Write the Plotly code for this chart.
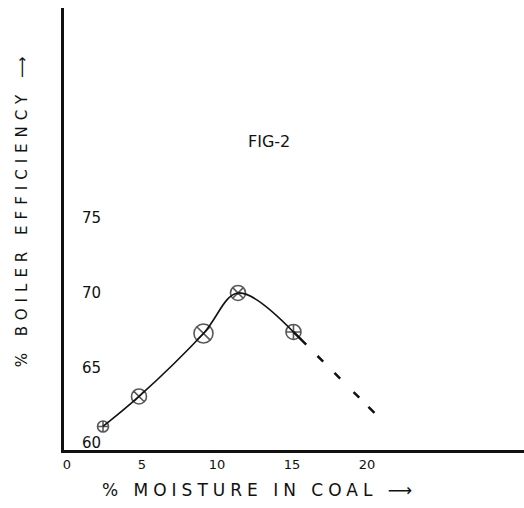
import plotly.graph_objects as go

# Boiler efficiency versus moisture content of the coal
moisture = [2.4, 4.8, 9.1, 11.4, 15.1]
efficiency = [61.1, 63.1, 67.3, 70.0, 67.4]
marker_sizes = [11, 15, 19, 15, 15]
marker_symbols = ["circle-cross-open", "circle-x-open", "circle-x-open",
                  "circle-x-open", "circle-cross-open"]

# Extrapolated trend beyond the last measurement
trend_moisture = [15.1, 20.5]
trend_efficiency = [67.4, 62.0]

x_ticks = [0, 5, 10, 15, 20]
y_ticks = [60, 65, 70, 75]

ink = "#111111"
font_family = "DejaVu Sans"

fig = go.Figure()

fig.add_trace(go.Scatter(
    x=trend_moisture, y=trend_efficiency, mode="lines",
    line=dict(color=ink, width=2.5, dash="18px,16px,8px,16px,8px,19px,8px,13px,9px,40px"),
    hoverinfo="skip", showlegend=False,
))

fig.add_trace(go.Scatter(
    x=moisture, y=efficiency, mode="lines+markers",
    line=dict(color=ink, width=1.6, shape="spline", smoothing=1.0),
    marker=dict(symbol=marker_symbols, size=marker_sizes, color=ink,
                line=dict(color=ink, width=1.6)),
    showlegend=False,
))

fig.update_layout(
    width=524, height=508,
    margin=dict(l=64, r=0, t=8, b=58),
    paper_bgcolor="white", plot_bgcolor="white",
    font=dict(family=font_family, color=ink),
    xaxis=dict(
        range=[-0.2, 30.47], tickvals=x_ticks, ticktext=[str(v) for v in x_ticks],
        showgrid=False, zeroline=False, showline=True, linecolor=ink, linewidth=3,
        ticks="", tickfont=dict(size=13, family=font_family, color=ink),
        ticklabelstandoff=0, ticklabeloverflow="allow",
    ),
    yaxis=dict(
        range=[59.53, 89.0], tickvals=y_ticks, ticktext=[str(v) for v in y_ticks],
        showgrid=False, zeroline=False, showline=True, linecolor=ink, linewidth=3,
        ticks="", ticklabelposition="inside", ticklabelstandoff=18,
        ticklabeloverflow="allow",
        tickfont=dict(size=15, family=font_family, color=ink),
    ),
    annotations=[
        dict(text="FIG-2", x=13.47, y=80.13, xref="x", yref="y", showarrow=False,
             xanchor="center", yanchor="middle",
             font=dict(size=16, family=font_family, color=ink)),
        dict(text='<span style="letter-spacing:6px">% BOILER EFFICIENCY ⟶</span>',
             x=-0.091, y=0.545, xref="paper", yref="paper", textangle=-90,
             xanchor="center", yanchor="middle",
             showarrow=False, font=dict(size=15, family=font_family, color=ink)),
        dict(text='<span style="letter-spacing:5px">% MOISTURE IN COAL ⟶</span>',
             x=0.424, y=-0.0905, xref="paper", yref="paper",
             xanchor="center", yanchor="middle",
             showarrow=False, font=dict(size=17, family=font_family, color=ink)),
    ],
)

fig.write_html("out.html")
